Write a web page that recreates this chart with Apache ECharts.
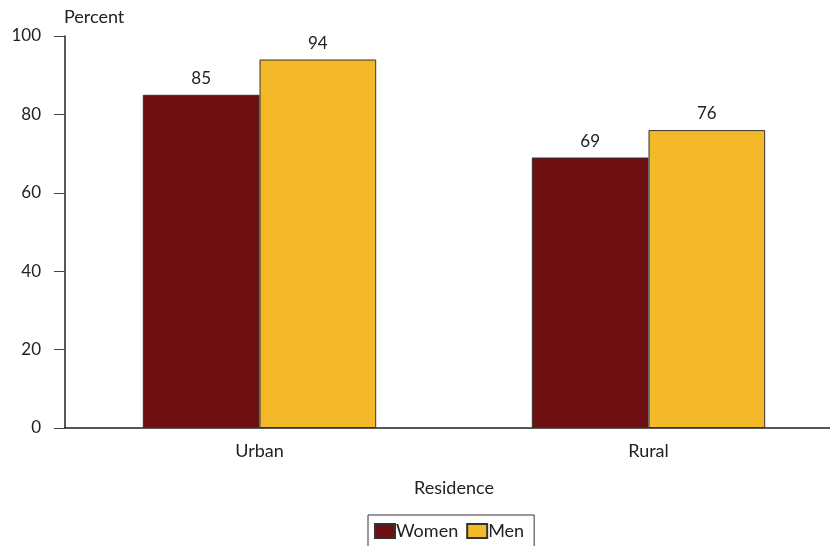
<!DOCTYPE html>
<html><head><meta charset="utf-8">
<script src="https://cdn.jsdelivr.net/npm/echarts@6/dist/echarts.min.js"></script>
<style>html,body{margin:0;padding:0;background:#fff;overflow:hidden}#c{width:844px;height:546px}</style>
</head><body><div id="c"></div>
<script>
var categories = ['Urban', 'Rural'];
var women = [85, 69];
var men = [94, 76];
var yTicks = [0, 20, 40, 60, 80, 100];

var font = 'Lato, "Open Sans", sans-serif';
var chart = echarts.init(document.getElementById('c'));
chart.setOption({
  animation: false,
  textStyle: {fontFamily: font},
  grid: {left: 65, top: 36, right: 1, bottom: 118, containLabel: false},
  legend: {
    data: ['Women', 'Men'], left: 368, top: 515,
    borderColor: '#333', borderWidth: 1, padding: [7, 10, 8, 6],
    itemWidth: 20, itemHeight: 14, itemGap: 8,
    icon: 'rect',
    textStyle: {fontSize: 18, color: '#222', fontFamily: font, padding: [0, 0, 0, -4]}
  },
  xAxis: {
    type: 'category', data: categories,
    name: 'Residence', nameLocation: 'middle', nameGap: 51,
    nameTextStyle: {fontSize: 18, color: '#222', fontFamily: font},
    axisLine: {lineStyle: {color: '#222', width: 1.5}},
    axisTick: {show: false},
    axisLabel: {fontSize: 18, color: '#222', margin: 14}
  },
  yAxis: {
    type: 'value', min: 0, max: 100, interval: 20,
    name: 'Percent', nameLocation: 'end', nameGap: 10,
    nameTextStyle: {fontSize: 18, color: '#222', align: 'left', padding: [0, 0, 0, -1]},
    axisLine: {show: true, lineStyle: {color: '#222', width: 1.5}},
    axisTick: {show: true, length: 11, lineStyle: {color: '#444'}},
    splitLine: {show: false},
    axisLabel: {fontSize: 17, color: '#222', margin: 24,
      formatter: function (v) { return yTicks.indexOf(v) >= 0 ? String(v) : ''; }}
  },
  series: [
    {name: 'Women', type: 'bar', data: women, barGap: 0, barCategoryGap: '40%',
     itemStyle: {color: '#6e0f12', borderColor: '#333', borderWidth: 1},
     label: {show: true, position: 'top', distance: 8, fontSize: 17, color: '#222'}},
    {name: 'Men', type: 'bar', data: men, barGap: 0, barCategoryGap: '40%',
     itemStyle: {color: '#f3b928', borderColor: '#333', borderWidth: 1},
     label: {show: true, position: 'top', distance: 8, fontSize: 17, color: '#222'}}
  ]
});
</script></body></html>
